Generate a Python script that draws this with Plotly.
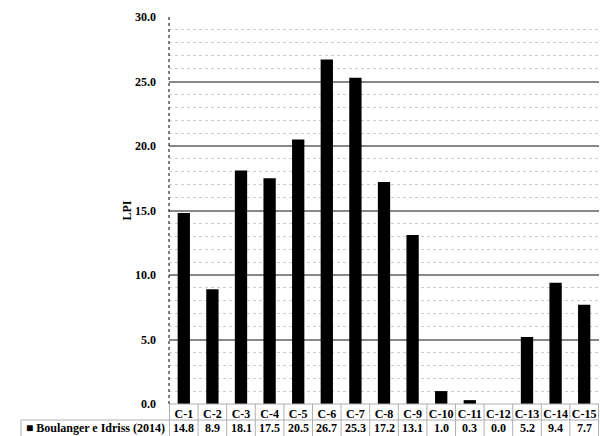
import plotly.graph_objects as go

categories = ["C-1", "C-2", "C-3", "C-4", "C-5", "C-6", "C-7", "C-8", "C-9",
              "C-10", "C-11", "C-12", "C-13", "C-14", "C-15"]
lpi_values = [14.8, 8.9, 18.1, 17.5, 20.5, 26.7, 25.3, 17.2, 13.1,
              1.0, 0.3, 0.0, 5.2, 9.4, 7.7]
series_name = "Boulanger e Idriss (2014)"
y_ticks = [0, 5, 10, 15, 20, 25, 30]

FONT = "Liberation Serif, Times New Roman, serif"
FS = 12
W, H = 600, 436
L, R, T, B = 169, 1, 17, 32
plot_h = H - T - B
plot_w = W - L - R

def py(px_below):
    return -px_below / plot_h

fig = go.Figure()
fig.add_trace(go.Bar(x=categories, y=lpi_values, marker=dict(color="black", line=dict(width=0)),
                     name=series_name, showlegend=False, hoverinfo="x+y"))

shapes = []
annotations = []
n = len(categories)
grid_col = "#b0b0b0"
left_edge = -(L - 21) / plot_w
for i in range(n + 1):
    shapes.append(dict(type="line", xref="x", yref="paper", x0=i - 0.5, x1=i - 0.5,
                       y0=0, y1=py(34), line=dict(color=grid_col, width=1), layer="above"))
shapes.append(dict(type="line", xref="paper", yref="paper", x0=left_edge, x1=1,
                   y0=py(16), y1=py(16), line=dict(color=grid_col, width=1)))
shapes.append(dict(type="line", xref="paper", yref="paper", x0=left_edge, x1=left_edge,
                   y0=py(16), y1=py(34), line=dict(color=grid_col, width=1)))
shapes.append(dict(type="line", xref="paper", yref="paper", x0=0, x1=1,
                   y0=0, y1=0, line=dict(color=grid_col, width=1)))
shapes.append(dict(type="line", xref="paper", yref="paper", x0=0, x1=0, y0=0, y1=1,
                   line=dict(color="black", width=1, dash="dot"), layer="above"))

for c, v in zip(categories, lpi_values):
    annotations.append(dict(x=c, xref="x", y=py(24), yref="paper", text=f"{v:.1f}",
                            showarrow=False, yanchor="middle", xanchor="center",
                            font=dict(family=FONT, size=FS, color="black", weight="bold")))
annotations.append(dict(x=0, xref="paper", xshift=-2, y=py(24), yref="paper",
                        text="■ " + series_name, showarrow=False, yanchor="middle", xanchor="right",
                        font=dict(family=FONT, size=FS, color="black", weight="bold")))

fig.update_layout(
    width=W, height=H,
    margin=dict(l=L, r=R, t=T, b=B, pad=0),
    plot_bgcolor="white", paper_bgcolor="white",
    bargap=0.57,
    shapes=shapes, annotations=annotations,
    font=dict(family=FONT, size=FS, color="black"),
    xaxis=dict(showgrid=False, showline=False, ticks="", tickangle=0, automargin=False,
               tickfont=dict(family=FONT, size=FS, weight="bold"),
               ticklabelstandoff=1, fixedrange=True),
    yaxis=dict(range=[0, 30], tickvals=y_ticks, ticktext=[f"{t:.1f}" for t in y_ticks],
               showgrid=True, gridcolor="#888888", gridwidth=1.5, zeroline=False, showline=False,
               ticks="", ticklabelstandoff=12, automargin=False, fixedrange=True,
               tickfont=dict(family=FONT, size=FS, weight="bold"),
               title=dict(text="LPI", standoff=0, font=dict(family=FONT, size=FS, weight="bold")),
               minor=dict(dtick=1, showgrid=True, gridcolor="#cccccc", griddash="dot", gridwidth=1)),
)
fig.write_html("out.html", config={"displayModeBar": False},
               post_script="document.body.style.margin='0';document.body.style.overflow='hidden';")
